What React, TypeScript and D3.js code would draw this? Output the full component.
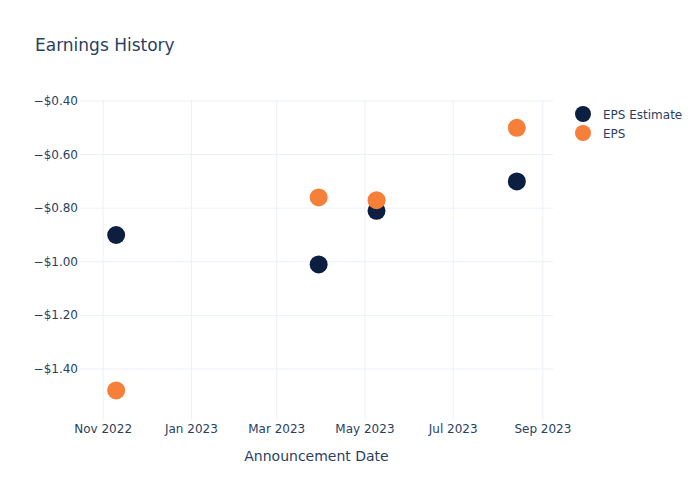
import React from "react";
import * as d3 from "d3";

const dates = ["2022-11-10", "2023-03-30", "2023-05-09", "2023-08-14"];
const epsEstimate = [-0.9, -1.01, -0.81, -0.7];
const eps = [-1.48, -0.76, -0.77, -0.5];
const xTicks = ["2022-11-01", "2023-01-01", "2023-03-01", "2023-05-01", "2023-07-01", "2023-09-01"];
const yTicks = [-0.4, -0.6, -0.8, -1.0, -1.2, -1.4];
const seriesNames = ["EPS Estimate", "EPS"];
const colors = ["#0c1f40", "#f6803a"];

const W = 700, H = 500;
const M = { left: 80, right: 147, top: 100, bottom: 80 };
const font = "'DejaVu Sans', Verdana, sans-serif";
const textColor = "#2a3f5f";
const gridColor = "#ebf0f8";

export default function App() {
  const parse = d3.utcParse("%Y-%m-%d");
  const x = d3
    .scaleUtc()
    .domain([parse("2022-10-16")!, parse("2023-09-08")!])
    .range([M.left, W - M.right]);
  const y = d3.scaleLinear().domain([-1.5903, -0.3963]).range([H - M.bottom, M.top]);
  const fmtX = d3.utcFormat("%b %Y");
  const fmtY = (v: number) => "\u2212$" + Math.abs(v).toFixed(2);
  const series = [epsEstimate, eps];

  return (
    <svg width={W} height={H} style={{ position: "absolute", left: 0, top: 0, background: "#fff" }}>
      <text x={35} y={50.5} fontFamily={font} fontSize={17} fill={textColor}>
        Earnings History
      </text>
      {xTicks.map((t) => {
        const px = x(parse(t)!);
        return (
          <g key={t}>
            <line x1={px} x2={px} y1={M.top} y2={H - M.bottom} stroke={gridColor} strokeWidth={1} />
            <text x={px} y={433} textAnchor="middle" fontFamily={font} fontSize={12} fill={textColor}>
              {fmtX(parse(t)!)}
            </text>
          </g>
        );
      })}
      {yTicks.map((t) => {
        const py = y(t);
        return (
          <g key={t}>
            <line x1={M.left} x2={W - M.right} y1={py} y2={py} stroke={gridColor} strokeWidth={1} />
            <text x={M.left - 2} y={py + 4} textAnchor="end" fontFamily={font} fontSize={12} fill={textColor}>
              {fmtY(t)}
            </text>
          </g>
        );
      })}
      <text x={(M.left + W - M.right) / 2} y={461} textAnchor="middle" fontFamily={font} fontSize={14} fill={textColor}>
        Announcement Date
      </text>
      {series.map((vals, si) => (
        <g key={si}>
          {vals.map((v, i) => (
            <circle key={i} cx={x(parse(dates[i])!)} cy={y(v)} r={9} fill={colors[si]} />
          ))}
        </g>
      ))}
      {seriesNames.map((n, i) => (
        <g key={n} transform={`translate(583, ${114 + i * 19})`}>
          <circle cx={0} cy={0} r={8} fill={colors[i]} />
          <text x={20} y={4.5} fontFamily={font} fontSize={12} fill={textColor}>
            {n}
          </text>
        </g>
      ))}
    </svg>
  );
}
